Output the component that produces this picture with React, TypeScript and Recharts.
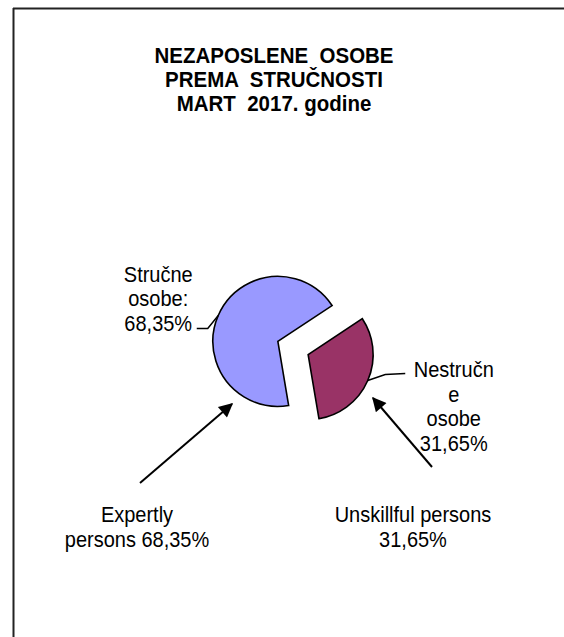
import { Cell, Pie, PieChart } from "recharts"

const categories = ["Stručne osobe", "Nestručne osobe"]
const shares = [68.35, 31.65]
const sliceColors = ["#9999FF", "#993366"]
const sliceLabels = [
  ["Stručne", "osobe:", "68,35%"],
  ["Nestručn", "e", "osobe", "31,65%"],
]
const noteLabels = [
  ["Expertly", "persons 68,35%"],
  ["Unskillful persons", "31,65%"],
]
const titleLines = ["NEZAPOSLENE  OSOBE", "PREMA  STRUČNOSTI", "MART  2017. godine"]

const data = categories.map((name, i) => ({ name, value: shares[i] }))

const W = 564
const H = 637
const CX = 293
const CY = 348
const R = 65
const START = 33.5
const EXPLODE = 16.5
const FONT = "'Liberation Sans', Arial, sans-serif"
const RAD = Math.PI / 180
const STRETCH = 1.12 // the old chart's text is a bit taller than Arial

// mid angle of each slice, used to push the slices apart
const total = shares.reduce((a, b) => a + b, 0)
const midAngles = shares.map((v, i) => {
  const before = shares.slice(0, i).reduce((a, b) => a + b, 0)
  return START + ((before + v / 2) / total) * 360
})

// leader line + text placement relative to the slice edge point
const labelLayout = [
  { bend: [-10.5, 13], end: [-21.5, 13], textDx: -60, firstDy: -34, lineGap: 24.5 },
  { bend: [17.5, -6], end: [37.5, -7], textDx: 86, firstDy: -3, lineGap: 24.5 },
]

function Line({ x, y, children, bold }: { x: number; y: number; children: string; bold?: boolean }) {
  return (
    <text
      transform={`translate(${x},${y}) scale(1,${STRETCH})`}
      textAnchor="middle"
      fontFamily={FONT}
      fontSize={bold ? 20.5 : 20}
      fontWeight={bold ? "bold" : "normal"}
      fill="#000"
      style={{ whiteSpace: "pre" }}
    >
      {children}
    </text>
  )
}

function makeLabel(own: number) {
  return (props: any) => {
    const { cx, cy, midAngle, outerRadius, index } = props
    if (index !== own) return null
    const ex = cx + outerRadius * Math.cos(-midAngle * RAD)
    const ey = cy + outerRadius * Math.sin(-midAngle * RAD)
    const l = labelLayout[index]
    const pts = `${ex},${ey} ${ex + l.bend[0]},${ey + l.bend[1]} ${ex + l.end[0]},${ey + l.end[1]}`
    return (
      <g>
        <polyline points={pts} fill="none" stroke="#000" strokeWidth={1.5} />
        {sliceLabels[index].map((t, k) => (
          <Line key={k} x={ex + l.textDx} y={ey + l.firstDy + k * l.lineGap}>
            {t}
          </Line>
        ))}
      </g>
    )
  }
}

export default function App() {
  return (
    <div style={{ position: "absolute", left: 0, top: 0, width: W, height: H, background: "#fff" }}>
      <PieChart width={W} height={H} margin={{ top: 0, right: 0, bottom: 0, left: 0 }}>
        <defs>
          <marker id="arrowHead" viewBox="0 0 10 10" refX="9" refY="5" markerWidth="8" markerHeight="7" orient="auto">
            <path d="M0,0 L10,5 L0,10 z" fill="#000" />
          </marker>
        </defs>

        {/* frame */}
        <line x1={13} y1={8.5} x2={W} y2={8.5} stroke="#222" strokeWidth={2} />
        <line x1={13.5} y1={8} x2={13.5} y2={H} stroke="#222" strokeWidth={2} />

        {titleLines.map((t, k) => (
          <Line key={k} x={274} y={63 + k * 24} bold>
            {t}
          </Line>
        ))}

        {midAngles.map((mid, i) => (
          <Pie
            key={i}
            data={data}
            dataKey="value"
            nameKey="name"
            cx={CX + EXPLODE * Math.cos(-mid * RAD)}
            cy={CY + EXPLODE * Math.sin(-mid * RAD)}
            outerRadius={R}
            startAngle={START}
            endAngle={START + 360}
            label={makeLabel(i)}
            labelLine={false}
            isAnimationActive={false}
          >
            {data.map((d, j) => (
              <Cell
                key={d.name}
                fill={j === i ? sliceColors[j] : "none"}
                stroke={j === i ? "#000" : "none"}
                strokeWidth={1.6}
              />
            ))}
          </Pie>
        ))}

        {/* annotation arrows */}
        <line x1={140} y1={483} x2={232} y2={404} stroke="#000" strokeWidth={2} markerEnd="url(#arrowHead)" />
        <line x1={432} y1={467} x2={373} y2={398} stroke="#000" strokeWidth={2} markerEnd="url(#arrowHead)" />

        {noteLabels[0].map((t, k) => (
          <Line key={k} x={137} y={522 + k * 25}>
            {t}
          </Line>
        ))}
        {noteLabels[1].map((t, k) => (
          <Line key={k} x={413} y={522 + k * 25}>
            {t}
          </Line>
        ))}
      </PieChart>
    </div>
  )
}
